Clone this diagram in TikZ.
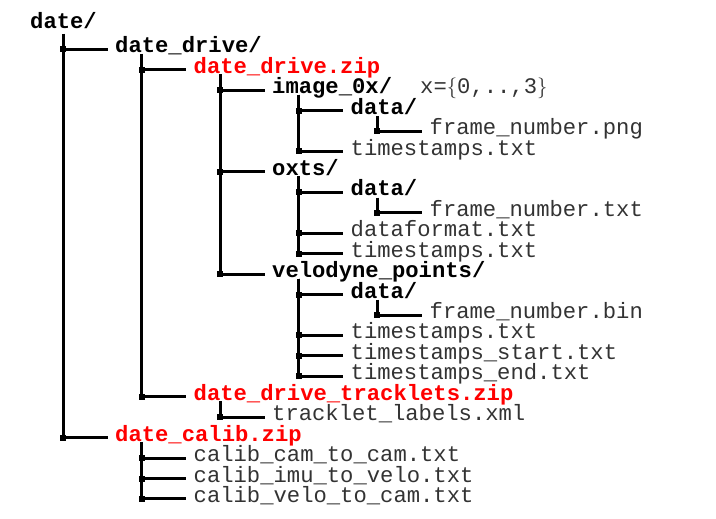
\documentclass[tikz,border=0pt]{standalone}
\usepackage{fontspec}
\setmonofont{Liberation Mono}
\tikzset{
  basetext/.style={font=\ttfamily\fontsize{22.2}{26}\selectfont, inner sep=0pt, anchor=base west},
  plain/.style={basetext, text=black!80},
  dirtext/.style={basetext, font=\ttfamily\bfseries\fontsize{22.2}{26}\selectfont},
  ziptext/.style={dirtext, text=red},
  tree/.style={line width=3pt, shorten >=7.5pt},
  jdot/.style={fill=black, inner sep=0pt, minimum size=6pt, rectangle}
}
\newcommand\branch[2]{%
  \coordinate (#2j) at ([yshift=3.5pt]#2.base west);
  \draw[tree] (#1) |- (#2j);
  \node[jdot] at (#1 |- #2j) {};
}
\begin{document}
\begin{tikzpicture}[x=1pt,y=-1pt]
\useasboundingbox (0,0) rectangle (716,519);
% text nodes
\node[dirtext] (n1) at (30,29) {date/};
\node[dirtext] (n2) at (115,52.80) {date\_drive/};
\node[ziptext] (n3) at (193.5,73.24) {date\_drive.zip};
\node[dirtext] (n4) at (272,93.68) {image\_0x/};
\node[plain] (nx) at (420,93.68) {x=$\{$0,..,3$\}$};
\node[dirtext] (n5) at (350.5,114.12) {data/};
\node[plain] (n6) at (429.5,134.56) {frame\_number.png};
\node[plain] (n7) at (350.5,155.00) {timestamps.txt};
\node[dirtext] (n8) at (272,175.44) {oxts/};
\node[dirtext] (n9) at (350.5,195.88) {data/};
\node[plain] (n10) at (429.5,216.32) {frame\_number.txt};
\node[plain] (n11) at (350.5,236.76) {dataformat.txt};
\node[plain] (n12) at (350.5,257.20) {timestamps.txt};
\node[dirtext] (n13) at (272,277.64) {velodyne\_points/};
\node[dirtext] (n14) at (350.5,298.08) {data/};
\node[plain] (n15) at (429.5,318.52) {frame\_number.bin};
\node[plain] (n16) at (350.5,338.96) {timestamps.txt};
\node[plain] (n17) at (350.5,359.40) {timestamps\_start.txt};
\node[plain] (n18) at (350.5,379.84) {timestamps\_end.txt};
\node[ziptext] (n19) at (193.5,400.28) {date\_drive\_tracklets.zip};
\node[plain] (n20) at (272,420.72) {tracklet\_labels.xml};
\node[ziptext] (n21) at (115,441.16) {date\_calib.zip};
\node[plain] (n22) at (193.5,461.60) {calib\_cam\_to\_cam.txt};
\node[plain] (n23) at (193.5,482.04) {calib\_imu\_to\_velo.txt};
\node[plain] (n24) at (193.5,502.48) {calib\_velo\_to\_cam.txt};
% vertical start points
\coordinate (v1) at (63,34);
\coordinate (v2) at (141.7,53.8);
\coordinate (v3) at (220,74.2);
\coordinate (v4) at (298.5,94.7);
\coordinate (v5) at (377,116);
\coordinate (v8) at (298.5,176.4);
\coordinate (v9) at (377,197.5);
\coordinate (v13) at (298.5,278.6);
\coordinate (v14) at (377,299.5);
\coordinate (v19) at (220,401.3);
\coordinate (v21) at (141.7,442.2);
% branches
\branch{v1}{n2}
\branch{v1}{n21}
\branch{v2}{n3}
\branch{v2}{n19}
\branch{v3}{n4}
\branch{v3}{n8}
\branch{v3}{n13}
\branch{v4}{n5}
\branch{v4}{n7}
\branch{v5}{n6}
\branch{v8}{n9}
\branch{v8}{n11}
\branch{v8}{n12}
\branch{v9}{n10}
\branch{v13}{n14}
\branch{v13}{n16}
\branch{v13}{n17}
\branch{v13}{n18}
\branch{v14}{n15}
\branch{v19}{n20}
\branch{v21}{n22}
\branch{v21}{n23}
\branch{v21}{n24}
\end{tikzpicture}
\end{document}
